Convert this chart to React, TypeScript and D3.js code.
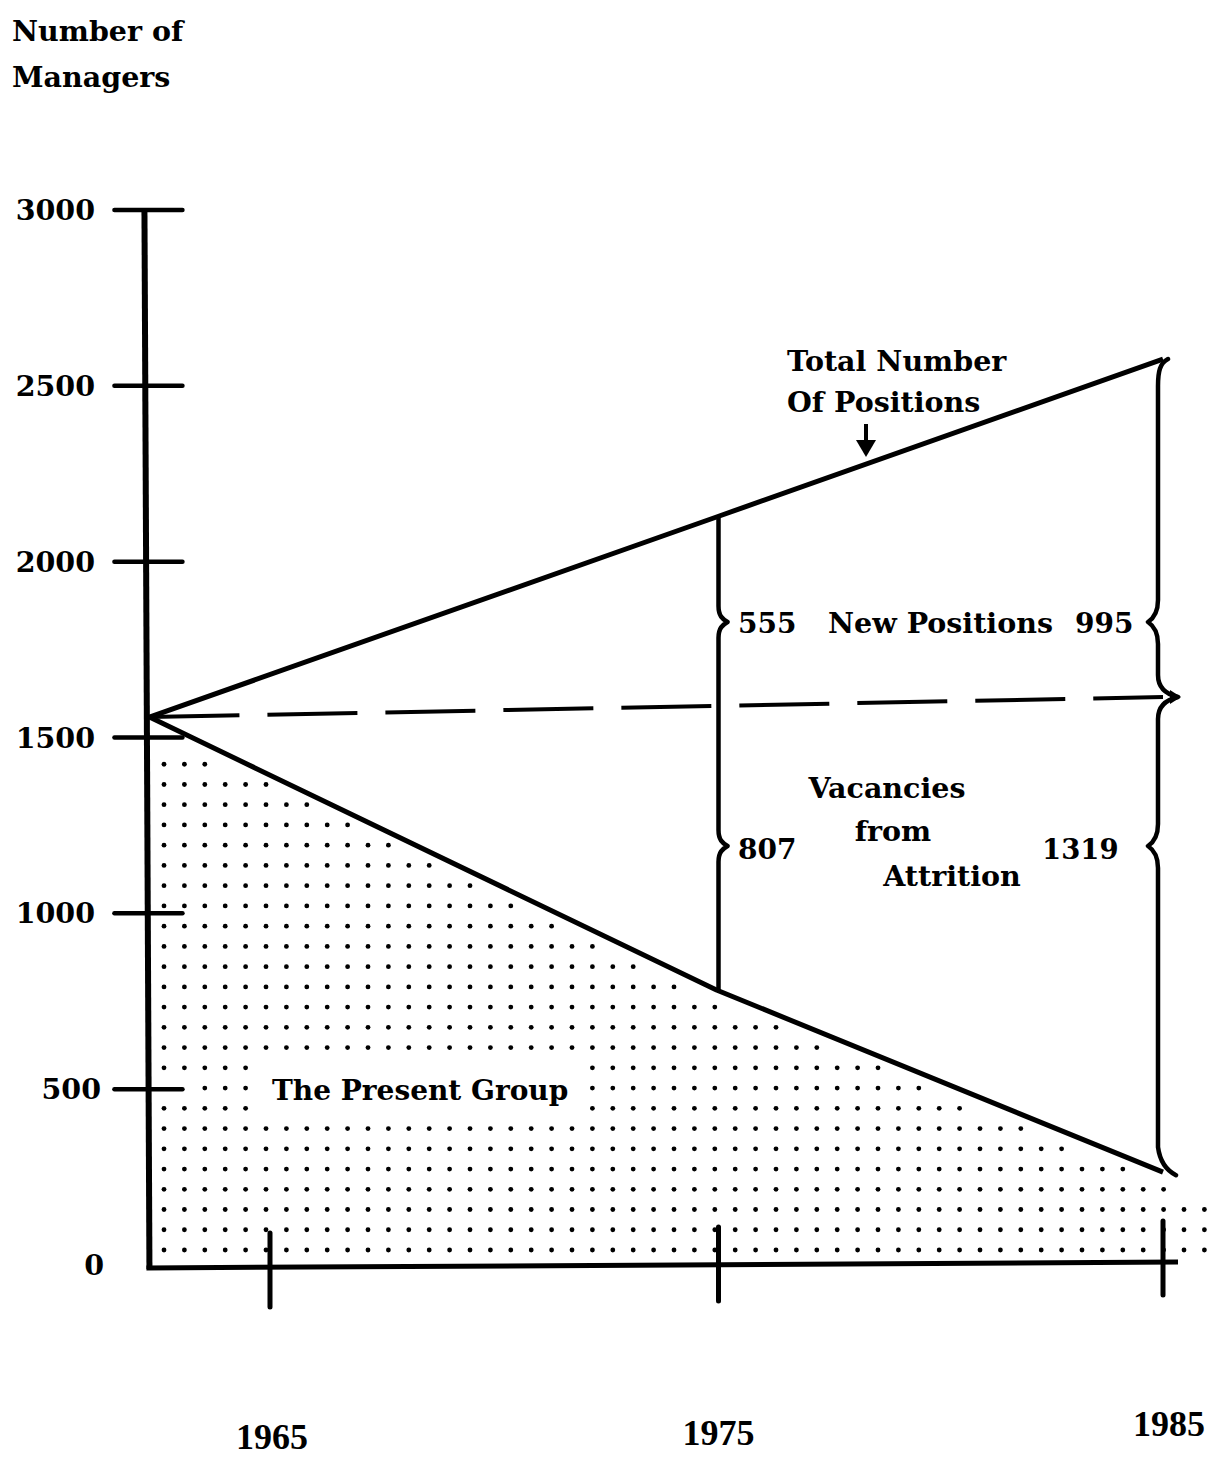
import React from "react";
import * as d3 from "d3";

// ---- data ----
const years = [1962.3, 1975, 1985];
const totalPositions = [1558, 2127, 2576];
const presentGroup = [1558, 782, 264];
const attritionBase = [1558, 1590, 1615];
const yTicks = [0, 500, 1000, 1500, 2000, 2500, 3000];
const xTickYears = [1965, 1975, 1985];
const newPositionsLabels = ["555", "995"];
const vacancyLabels = ["807", "1319"];

const W = 1213;
const H = 1459;
const FONT = "'DejaVu Serif', 'Liberation Serif', serif";
const YEAR_FONT = "'Liberation Serif', 'DejaVu Serif', serif";

export default function App() {
  const x = d3.scaleLinear().domain([1965, 1985]).range([270, 1163]);
  const y = d3.scaleLinear().domain([0, 3000]).range([1265, 210]);

  const pts = (vals: number[]) => years.map((yr, i) => [x(yr), y(vals[i])] as [number, number]);
  const line = d3.line<[number, number]>();

  const axisX = x(years[0]) - 3;
  const y0 = y(0);

  const presentY = d3.scaleLinear().domain(years.map(x)).range(presentGroup.map(y)).clamp(true);

  const clear = { x0: 258, x1: 578, y0: 1060, y1: 1116 };

  const dots: [number, number][] = [];
  const xEnd = x(1985);
  for (let i = 0; i < 52; i++) {
    const dx = 164 + 20.4 * i;
    for (let j = 0; j < 26; j++) {
      const dy = 744 + 20.24 * j;
      if (dy > y0 - 10) continue;
      if (dx <= xEnd + 2) {
        if (dy <= presentY(dx) + 11) continue;
      } else if (dy < y(presentGroup[2]) + 22) continue;
      if (dx > clear.x0 && dx < clear.x1 && dy > clear.y0 && dy < clear.y1) continue;
      let nearTick = false;
      yTicks.forEach((t) => {
        if (Math.abs(dy - y(t)) < 7 && dx < axisX + 46) nearTick = true;
      });
      if (nearTick) continue;
      dots.push([dx, dy]);
    }
  }

  const bx1 = x(1975) + 2;
  const t1 = y(totalPositions[1]);
  const p1 = y(presentGroup[1]);
  const tipA = 622;
  const tipB = 846;
  const brace1 = `M${bx1},${t1} L${bx1},${tipA - 16} C${bx1},${tipA - 6} ${bx1 + 4},${tipA - 3} ${bx1 + 9},${tipA}
    C${bx1 + 4},${tipA + 3} ${bx1},${tipA + 6} ${bx1},${tipA + 16} L${bx1},${tipB - 16}
    C${bx1},${tipB - 6} ${bx1 + 4},${tipB - 3} ${bx1 + 9},${tipB} C${bx1 + 4},${tipB + 3} ${bx1},${tipB + 6} ${bx1},${tipB + 16}
    L${bx1},${p1}`;

  const bx2 = x(1985) - 5;
  const t2 = y(totalPositions[2]);
  const m2 = y(attritionBase[2]);
  const p2 = y(presentGroup[2]);
  const brace2 = `M${bx2 + 10},${t2} C${bx2 + 2},${t2 + 4} ${bx2},${t2 + 12} ${bx2},${t2 + 27}
    L${bx2},${tipA - 22} C${bx2},${tipA - 10} ${bx2 - 4},${tipA - 4} ${bx2 - 10},${tipA}
    C${bx2 - 4},${tipA + 4} ${bx2},${tipA + 10} ${bx2},${tipA + 22}
    L${bx2},${m2 - 22} C${bx2},${m2 - 10} ${bx2 + 7},${m2 - 3} ${bx2 + 20},${m2}
    C${bx2 + 7},${m2 + 3} ${bx2},${m2 + 10} ${bx2},${m2 + 22}
    L${bx2},${tipB - 22} C${bx2},${tipB - 10} ${bx2 - 4},${tipB - 4} ${bx2 - 10},${tipB}
    C${bx2 - 4},${tipB + 4} ${bx2},${tipB + 10} ${bx2},${tipB + 22}
    L${bx2},${p2 - 25} C${bx2 + 2},${p2 - 10} ${bx2 + 8},${p2 - 2} ${bx2 + 18},${p2 + 3}`;

  const yearLabelY = [1449, 1445, 1436];
  const yearLabelDx = [2, 2, 6];

  const textStyle = { fontFamily: FONT, fontWeight: 700, fill: "#000" } as const;
  const WORD = 28.5;

  return (
    <svg width={W} height={H} viewBox={`0 0 ${W} ${H}`} style={{ display: "block", position: "absolute", left: 0, top: 0, background: "#fff" }}>
      <rect width={W} height={H} fill="#fff" />

      <text x={12} y={41} fontSize={WORD} {...textStyle}>Number of</text>
      <text x={12} y={87} fontSize={WORD} {...textStyle}>Managers</text>

      <g fill="#000">
        {dots.map(([cx, cy], i) => (
          <circle key={i} cx={cx} cy={cy} r={2.4} />
        ))}
      </g>

      <line x1={axisX - 2} y1={y(3000)} x2={axisX + 3} y2={y0 + 4} stroke="#000" strokeWidth={6} />
      {yTicks.map((t) => (
        <g key={t}>
          {t > 0 && (
            <line x1={axisX - 32} x2={axisX + 36} y1={y(t)} y2={y(t)} stroke="#000" strokeWidth={4.5} strokeLinecap="round" />
          )}
          <text x={t === 0 ? 104 : t === 500 ? 101 : 95} y={y(t) + 10} fontSize={28.5} textAnchor="end" {...textStyle}>
            {t}
          </text>
        </g>
      ))}

      <line x1={axisX} x2={x(1985) + 15} y1={y0 + 3} y2={y0 - 3} stroke="#000" strokeWidth={5} />
      {xTickYears.map((yr, i) => (
        <g key={yr}>
          <line x1={x(yr) + (i === 1 ? 2 : 0)} x2={x(yr) + (i === 1 ? 2 : 0)} y1={y0 - 32 + i * -6} y2={y0 + 42 - i * 6} stroke="#000" strokeWidth={5} strokeLinecap="round" />
          <text x={x(yr) + yearLabelDx[i]} y={yearLabelY[i]} fontSize={36} textAnchor="middle" fontFamily={YEAR_FONT} fontWeight={700} fill="#000">
            {yr}
          </text>
        </g>
      ))}

      <path d={line(pts(attritionBase)) || ""} fill="none" stroke="#000" strokeWidth={4} strokeDasharray="90 28" />

      <path d={line(pts(totalPositions)) || ""} fill="none" stroke="#000" strokeWidth={5} strokeLinejoin="round" />
      <path d={line(pts(presentGroup)) || ""} fill="none" stroke="#000" strokeWidth={5} strokeLinejoin="round" />

      <path d={brace1} fill="none" stroke="#000" strokeWidth={4.5} strokeLinejoin="round" />
      <path d={brace2} fill="none" stroke="#000" strokeWidth={4.5} strokeLinejoin="round" strokeLinecap="round" />
      <path d={`M${bx2 + 12},${m2 - 7} L${bx2 + 23},${m2} L${bx2 + 12},${m2 + 7} Z`} fill="#000" />

      <text x={787} y={371} fontSize={WORD} {...textStyle}>Total Number</text>
      <text x={787} y={412} fontSize={WORD} {...textStyle}>Of Positions</text>
      <line x1={866} x2={866} y1={424} y2={446} stroke="#000" strokeWidth={4} />
      <path d="M856,440 L876,440 L866,457 Z" fill="#000" />

      <text x={738} y={tipA + 11} fontSize={28} {...textStyle}>{newPositionsLabels[0]}</text>
      <text x={828} y={tipA + 11} fontSize={WORD} {...textStyle}>New Positions</text>
      <text x={1075} y={tipA + 11} fontSize={28} {...textStyle}>{newPositionsLabels[1]}</text>

      <text x={887} y={798} fontSize={WORD} textAnchor="middle" {...textStyle}>Vacancies</text>
      <text x={893} y={841} fontSize={WORD} textAnchor="middle" {...textStyle}>from</text>
      <text x={952} y={886} fontSize={WORD} textAnchor="middle" {...textStyle}>Attrition</text>
      <text x={738} y={tipB + 13} fontSize={28} {...textStyle}>{vacancyLabels[0]}</text>
      <text x={1042} y={tipB + 13} fontSize={27.5} {...textStyle}>{vacancyLabels[1]}</text>

      <text x={272} y={1100} fontSize={28} {...textStyle}>The Present Group</text>
    </svg>
  );
}
